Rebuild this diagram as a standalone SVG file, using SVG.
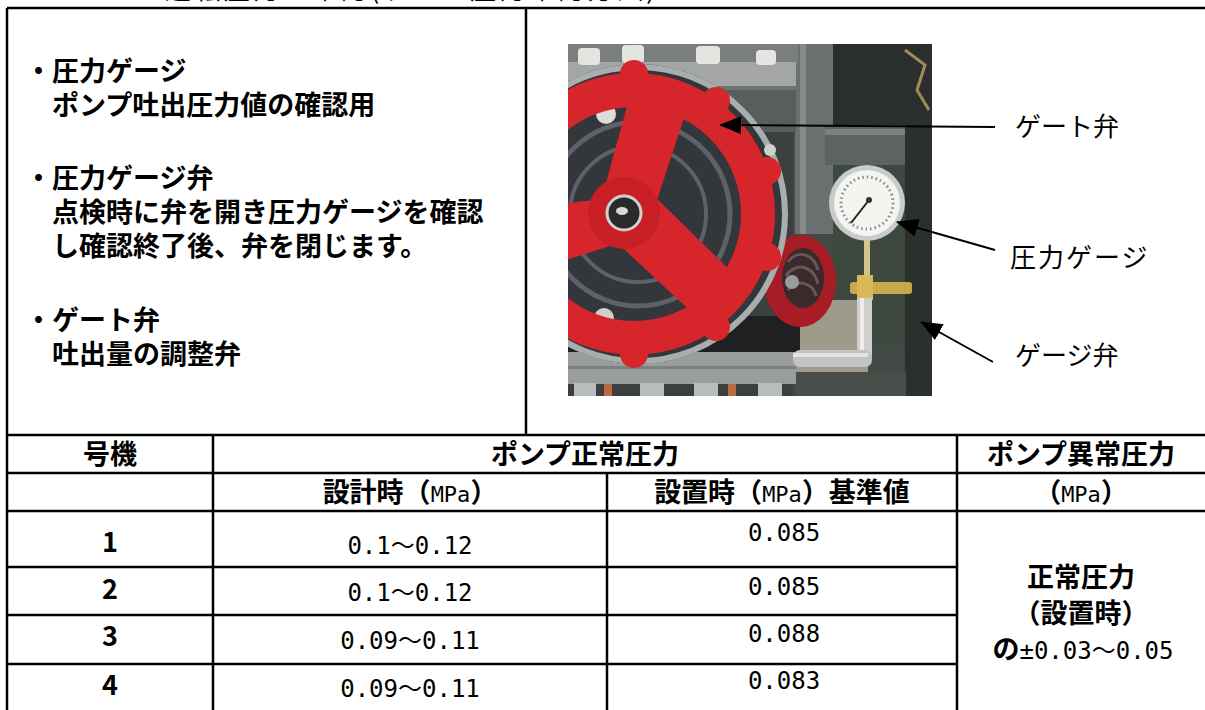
<svg xmlns="http://www.w3.org/2000/svg" width="1205" height="710" viewBox="0 0 1205 710">
<style>
.ln{stroke:#000;stroke-width:2.5;fill:none}
.jb{font-family:"Noto Sans CJK JP",sans-serif;font-weight:700;font-size:27px;fill:#000}
.jr{font-family:"Noto Sans CJK JP",sans-serif;font-weight:400;font-size:26px;fill:#000}
.num{font-family:"DejaVu Sans Mono","Noto Sans CJK JP",monospace;font-weight:400;font-size:24px;fill:#000}
.mpa{font-family:"DejaVu Sans Mono","Noto Sans CJK JP",monospace;font-weight:400;font-size:22px}
.mid{text-anchor:middle}
.arrow{stroke:#000;stroke-width:2;fill:none;marker-end:url(#ah)}
.red{fill:#d6252b}
</style>
<defs>
<marker id="ah" markerUnits="userSpaceOnUse" markerWidth="22" markerHeight="18" refX="21" refY="9" orient="auto">
<path d="M0,0 L22,9 L0,18 z" fill="#000"/>
</marker>
<clipPath id="pc"><rect x="568" y="44" width="364" height="352"/></clipPath>
</defs>
<rect width="1205" height="710" fill="#fff"/>

<g id="title">
<text class="jr" x="165" y="-1" font-size="22" textLength="490" lengthAdjust="spacing">運転圧力の確認(ゲージ圧力確認方法)</text>
</g>

<g id="frame">
<line class="ln" x1="7" y1="8" x2="1205" y2="8"/>
<line class="ln" x1="7" y1="8" x2="7" y2="710"/>
<line class="ln" x1="526" y1="8" x2="526" y2="435"/>
</g>

<g id="description">
<text class="jb" x="25" y="81">・圧力ゲージ<tspan x="52" dy="34">ポンプ吐出圧力値の確認用</tspan></text>
<text class="jb" x="25" y="188">・圧力ゲージ弁<tspan x="52" dy="34">点検時に弁を開き圧力ゲージを確認</tspan><tspan x="52" dy="34">し確認終了後、弁を閉じます。</tspan></text>
<text class="jb" x="25" y="330">・ゲート弁<tspan x="52" dy="34">吐出量の調整弁</tspan></text>
</g>

<g id="photo" clip-path="url(#pc)">
<rect x="568" y="44" width="364" height="352" fill="#3b403e"/>
<rect x="793" y="44" width="139" height="352" fill="#434a46"/>
<rect x="830" y="44" width="102" height="88" fill="#2a2e2c"/>
<rect x="795" y="44" width="38" height="190" fill="#6b7070"/>
<rect x="800" y="44" width="6" height="190" fill="#868b8a"/>
<rect x="825" y="125" width="82" height="40" fill="#5d6362"/>
<rect x="825" y="129" width="82" height="6" fill="#7b8080"/>
<rect x="905" y="120" width="27" height="276" fill="#2b302e"/>
<rect x="833" y="165" width="72" height="180" fill="#3d483f"/>
<path d="M905,50 l20,15 l-8,25 l12,20" stroke="#a08a5a" stroke-width="3" fill="none"/>
<rect x="796" y="300" width="72" height="96" fill="#9f9b8b"/>
<rect x="796" y="372" width="110" height="24" fill="#4a4e4b"/>
<rect x="568" y="44" width="230" height="20" fill="#7a7e7d"/>
<rect x="568" y="62" width="228" height="28" fill="#a3a6a5"/>
<rect x="568" y="86" width="228" height="4" fill="#6f7372"/>
<rect x="578" y="48" width="22" height="17" rx="4" fill="#e4e4e0"/>
<rect x="622" y="45" width="22" height="18" rx="4" fill="#e4e4e0"/>
<rect x="696" y="46" width="24" height="18" rx="4" fill="#e4e4e0"/>
<rect x="756" y="50" width="20" height="15" rx="4" fill="#e4e4e0"/>
<rect x="700" y="90" width="96" height="42" fill="#585d5d"/>
<rect x="568" y="316" width="232" height="38" fill="#1e2022"/>
<rect x="568" y="352" width="228" height="32" fill="#999d9c"/>
<rect x="568" y="366" width="228" height="3" fill="#7d8180"/>
<rect x="574" y="383" width="22" height="13" fill="#b9bcbc"/>
<rect x="604" y="384" width="8" height="12" fill="#b86a43"/>
<rect x="640" y="383" width="24" height="13" fill="#b9bcbc"/>
<rect x="694" y="383" width="24" height="13" fill="#b9bcbc"/>
<rect x="728" y="384" width="8" height="12" fill="#b86a43"/>
<rect x="758" y="383" width="24" height="13" fill="#b9bcbc"/>
<ellipse cx="800" cy="281" rx="36" ry="46" fill="#a81c26"/>
<ellipse cx="803" cy="278" rx="21" ry="30" fill="#3a2a2c"/>
<path d="M788,262 a18,24 0 0 1 30,8 M786,276 a18,22 0 0 1 32,8 M788,290 a16,18 0 0 1 28,6" stroke="#6a5658" stroke-width="3" fill="none"/>
<circle cx="792" cy="282" r="7" fill="#9a9a9a"/>
<circle cx="638" cy="214" r="150" fill="#33373b"/>
<circle cx="638" cy="214" r="147" fill="none" stroke="#a8adad" stroke-width="6"/>
<circle cx="638" cy="214" r="116" fill="none" stroke="#5c6268" stroke-width="5"/>
<circle cx="638" cy="214" r="92" fill="none" stroke="#5c6268" stroke-width="5"/>
<circle cx="638" cy="214" r="68" fill="none" stroke="#5c6268" stroke-width="4"/>
<circle cx="606" cy="114" r="10" fill="#dcdcd8"/>
<circle cx="604" cy="318" r="10" fill="#cfcfcb"/>
<circle cx="770" cy="150" r="6" fill="#d0d0cc"/>
<g class="red">
<circle cx="634" cy="214" r="124" fill="none" stroke="#d6252b" stroke-width="34"/>
<circle cx="634" cy="74" r="14"/>
<circle cx="716" cy="101" r="14"/>
<circle cx="767" cy="171" r="14"/>
<circle cx="767" cy="257" r="14"/>
<circle cx="716" cy="327" r="14"/>
<circle cx="634" cy="354" r="14"/>
<circle cx="552" cy="327" r="14"/>
<circle cx="552" cy="101" r="14"/>
</g>
<path d="M600,205 L630,95 L690,100 L652,215 Z" fill="#d6252b"/>
<path d="M612,238 L650,192 L740,280 L700,320 Z" fill="#d6252b"/>
<path d="M640,195 L628,240 L520,275 L505,210 Z" fill="#d6252b"/>
<circle cx="624" cy="213" r="36" fill="#c81f26"/>
<circle cx="624" cy="213" r="17" fill="#2a2a2a" stroke="#cfcfcf" stroke-width="3"/>
<ellipse cx="622" cy="211" rx="6" ry="4" fill="#d8d8d8"/>
<circle cx="867" cy="203" r="38" fill="#c9cccc"/>
<circle cx="867" cy="203" r="33" fill="#f4f4f0"/>
<circle cx="867" cy="203" r="26" fill="none" stroke="#8a8a8a" stroke-width="3" stroke-dasharray="1.5 3"/>
<line x1="869" y1="200" x2="851" y2="223" stroke="#222" stroke-width="2"/>
<circle cx="869" cy="200" r="3" fill="#333"/>
<rect x="864" y="240" width="6" height="44" fill="#d4c58a"/>
<rect x="850" y="282" width="62" height="12" rx="3" fill="#c9a84c"/>
<rect x="857" y="275" width="16" height="25" fill="#d9b95a"/>
<rect x="857" y="298" width="15" height="58" fill="#cfcfcf"/>
<rect x="860" y="298" width="4" height="58" fill="#eeeeee"/>
<rect x="793" y="350" width="79" height="17" rx="7" fill="#c3c3c3"/>
<rect x="793" y="353" width="75" height="4" fill="#e4e4e4"/>
</g>

<g id="labels">
<text class="jr" x="1015" y="136">ゲート弁</text>
<text class="jr" x="1010" y="267" letter-spacing="2">圧力ゲージ</text>
<text class="jr" x="1015" y="365">ゲージ弁</text>
</g>

<g id="connectors">
<line class="arrow" x1="995" y1="127" x2="720" y2="125"/>
<line class="arrow" x1="995" y1="250" x2="897" y2="222"/>
<line class="arrow" x1="993" y1="362" x2="921" y2="322"/>
</g>

<g id="table">
<g id="table-lines">
<line class="ln" x1="7" y1="435" x2="1205" y2="435"/>
<line class="ln" x1="7" y1="473" x2="1205" y2="473"/>
<line class="ln" x1="7" y1="511" x2="1205" y2="511"/>
<line class="ln" x1="7" y1="567" x2="957" y2="567"/>
<line class="ln" x1="7" y1="615" x2="957" y2="615"/>
<line class="ln" x1="7" y1="664" x2="957" y2="664"/>
<line class="ln" x1="213" y1="435" x2="213" y2="710"/>
<line class="ln" x1="607" y1="473" x2="607" y2="710"/>
<line class="ln" x1="957" y1="435" x2="957" y2="710"/>
</g>
<g id="header">
<text class="jb mid" x="110" y="464">号機</text>
<text class="jb mid" x="585" y="464">ポンプ正常圧力</text>
<text class="jb mid" x="1081" y="464">ポンプ異常圧力</text>
<text class="jb mid" x="410" y="502">設計時（<tspan class="mpa">MPa</tspan>）</text>
<text class="jb mid" x="782" y="502">設置時（<tspan class="mpa">MPa</tspan>）基準値</text>
<text class="jb mid" x="1081" y="502">（<tspan class="mpa">MPa</tspan>）</text>
</g>
<g id="rows">
<text class="jb mid" x="110" y="552" font-size="25">1</text>
<text class="num mid" x="410" y="554">0.1～0.12</text>
<text class="num mid" x="784" y="541">0.085</text>
<text class="jb mid" x="110" y="599" font-size="25">2</text>
<text class="num mid" x="410" y="601">0.1～0.12</text>
<text class="num mid" x="784" y="595">0.085</text>
<text class="jb mid" x="110" y="646" font-size="25">3</text>
<text class="num mid" x="410" y="649">0.09～0.11</text>
<text class="num mid" x="784" y="642">0.088</text>
<text class="jb mid" x="110" y="695" font-size="25">4</text>
<text class="num mid" x="410" y="697">0.09～0.11</text>
<text class="num mid" x="784" y="689">0.083</text>
</g>
<g id="abnormal">
<text class="jb mid" x="1081" y="587">正常圧力<tspan x="1081" dy="36">（設置時）</tspan><tspan x="1083" dy="36">の</tspan><tspan class="num" font-size="22">±0.03～0.05</tspan></text>
</g>
</g>
</svg>
